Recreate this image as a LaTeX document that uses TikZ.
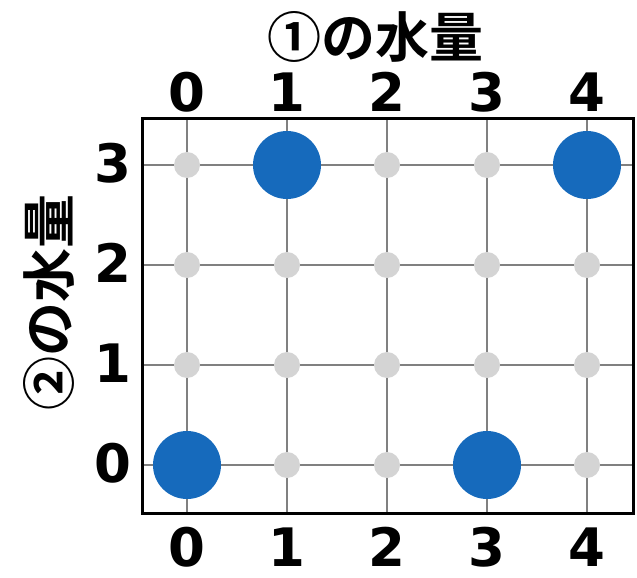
\documentclass[tikz,border=0pt]{standalone}
\usepackage{fontspec}
\setmainfont{DejaVu Sans}
\newfontfamily\jpfont{Noto Sans CJK JP}[BoldFont={* Bold}]
\usetikzlibrary{positioning}

\definecolor{dotblue}{RGB}{22,106,188}
\definecolor{dotgray}{RGB}{212,212,212}
\definecolor{gridgray}{RGB}{128,128,128}

\begin{document}
\begin{tikzpicture}[
  x=1pt, y=-1pt,
  gridline/.style={draw=gridgray, line width=1.5pt},
  frame/.style={draw=black, line width=3pt},
  smalldot/.style={circle, fill=dotgray, minimum size=26pt, inner sep=0pt},
  bigdot/.style={circle, fill=dotblue, minimum size=68pt, inner sep=0pt},
  axnum/.style={inner sep=0pt, font=\fontsize{53}{53}\selectfont\bfseries},
  axtitle/.style={inner sep=0pt, font=\fontsize{54}{54}\selectfont\jpfont\bfseries},
]
\useasboundingbox (0,0) rectangle (637,578);

% ---------- grid ----------
\coordinate (boxNW) at (142,118);
\coordinate (boxSE) at (633,513);
\foreach \i in {0,...,4} {
  \draw[gridline] (187+100*\i,118) -- (187+100*\i,513);
}
\foreach \j in {0,...,3} {
  \draw[gridline] (142,465-100*\j) -- (633,465-100*\j);
}
\draw[frame] (boxNW) rectangle (boxSE);

% ---------- points ----------
\foreach \i in {0,...,4} {
  \foreach \j in {0,...,3} {
    \node[smalldot] (p\i\j) at (187+100*\i,465-100*\j) {};
  }
}
\node[bigdot] (b13) at (p13) {};
\node[bigdot] (b43) at (p43) {};
\node[bigdot] (b00) at (p00) {};
\node[bigdot] (b30) at (p30) {};

% ---------- axis numbers ----------
\foreach \i in {0,...,4} {
  \node[axnum] (top\i) at (187+100*\i,92) {\i};
  \node[axnum] (bot\i) at (187+100*\i,547) {\i};
}
\foreach \j in {0,...,3} {
  \node[axnum] (row\j) at (113,463-100*\j) {\j};
}

% ---------- axis titles ----------
\node[axtitle] (xtitle) at (375,37) {①の水量};
\node[axtitle, rotate=90] (ytitle) at (49,302) {②の水量};

\end{tikzpicture}
\end{document}
